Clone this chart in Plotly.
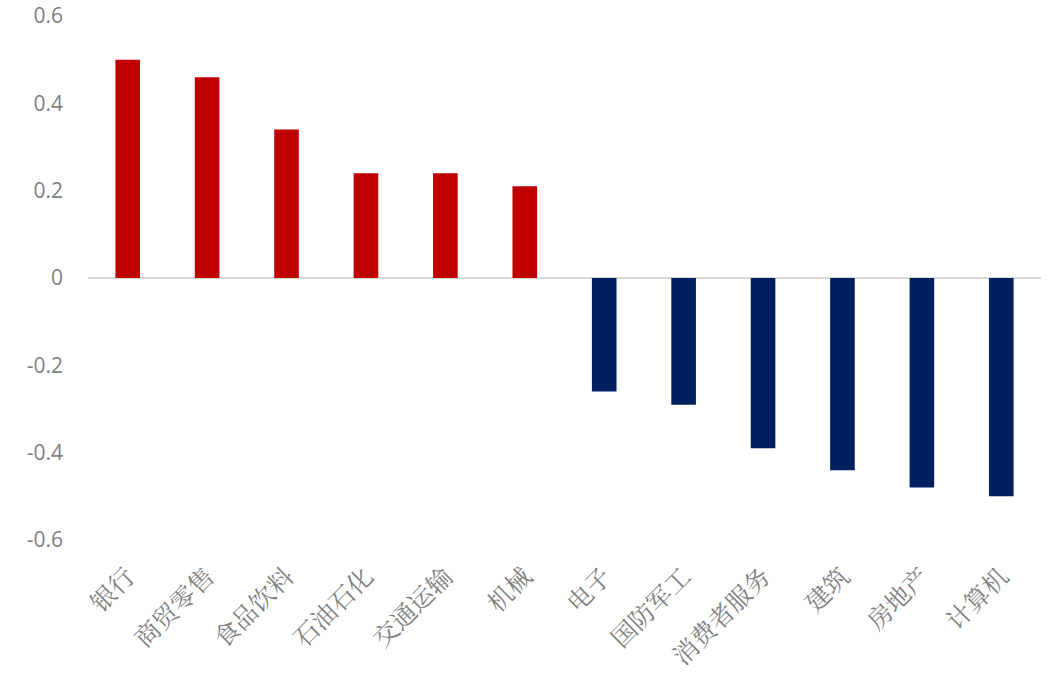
import plotly.graph_objects as go

categories = ["银行", "商贸零售", "食品饮料", "石油石化", "交通运输", "机械",
              "电子", "国防军工", "消费者服务", "建筑", "房地产", "计算机"]
values = [0.50, 0.46, 0.34, 0.24, 0.24, 0.21,
          -0.26, -0.29, -0.39, -0.44, -0.48, -0.50]
tick_vals = [-0.6, -0.4, -0.2, 0, 0.2, 0.4, 0.6]
tick_text = ["-0.6", "-0.4", "-0.2", "0", "0.2", "0.4", "0.6"]

colors = ["#C00000" if v >= 0 else "#002060" for v in values]

fig = go.Figure(go.Bar(x=categories, y=values, marker_color=colors,
                       marker_line_width=0))

fig.update_layout(
    width=1050, height=684,
    margin=dict(l=88, r=9, t=16, b=144, autoexpand=False),
    plot_bgcolor="white", paper_bgcolor="white",
    bargap=0.69,
    showlegend=False,
)
fig.update_yaxes(
    range=[-0.6, 0.6], tickvals=tick_vals, ticktext=tick_text,
    showgrid=False, zeroline=True, zerolinecolor="#D9D9D9", zerolinewidth=1.5,
    showline=False, ticks="", ticklabelstandoff=24,
    ticklabeloverflow="allow",
    tickfont=dict(family="Open Sans", size=21, color="#7F7F7F"),
    automargin=False,
)
fig.update_xaxes(
    tickangle=-45, showgrid=False, showline=False, ticks="",
    ticklabelstandoff=16,
    tickfont=dict(family="Noto Serif CJK SC, Noto Sans CJK SC", size=25, color="#7F7F7F"),
    automargin=False,
)

fig.write_html("out.html", config={"displayModeBar": False},
               post_script="document.body.style.margin='0px';")
